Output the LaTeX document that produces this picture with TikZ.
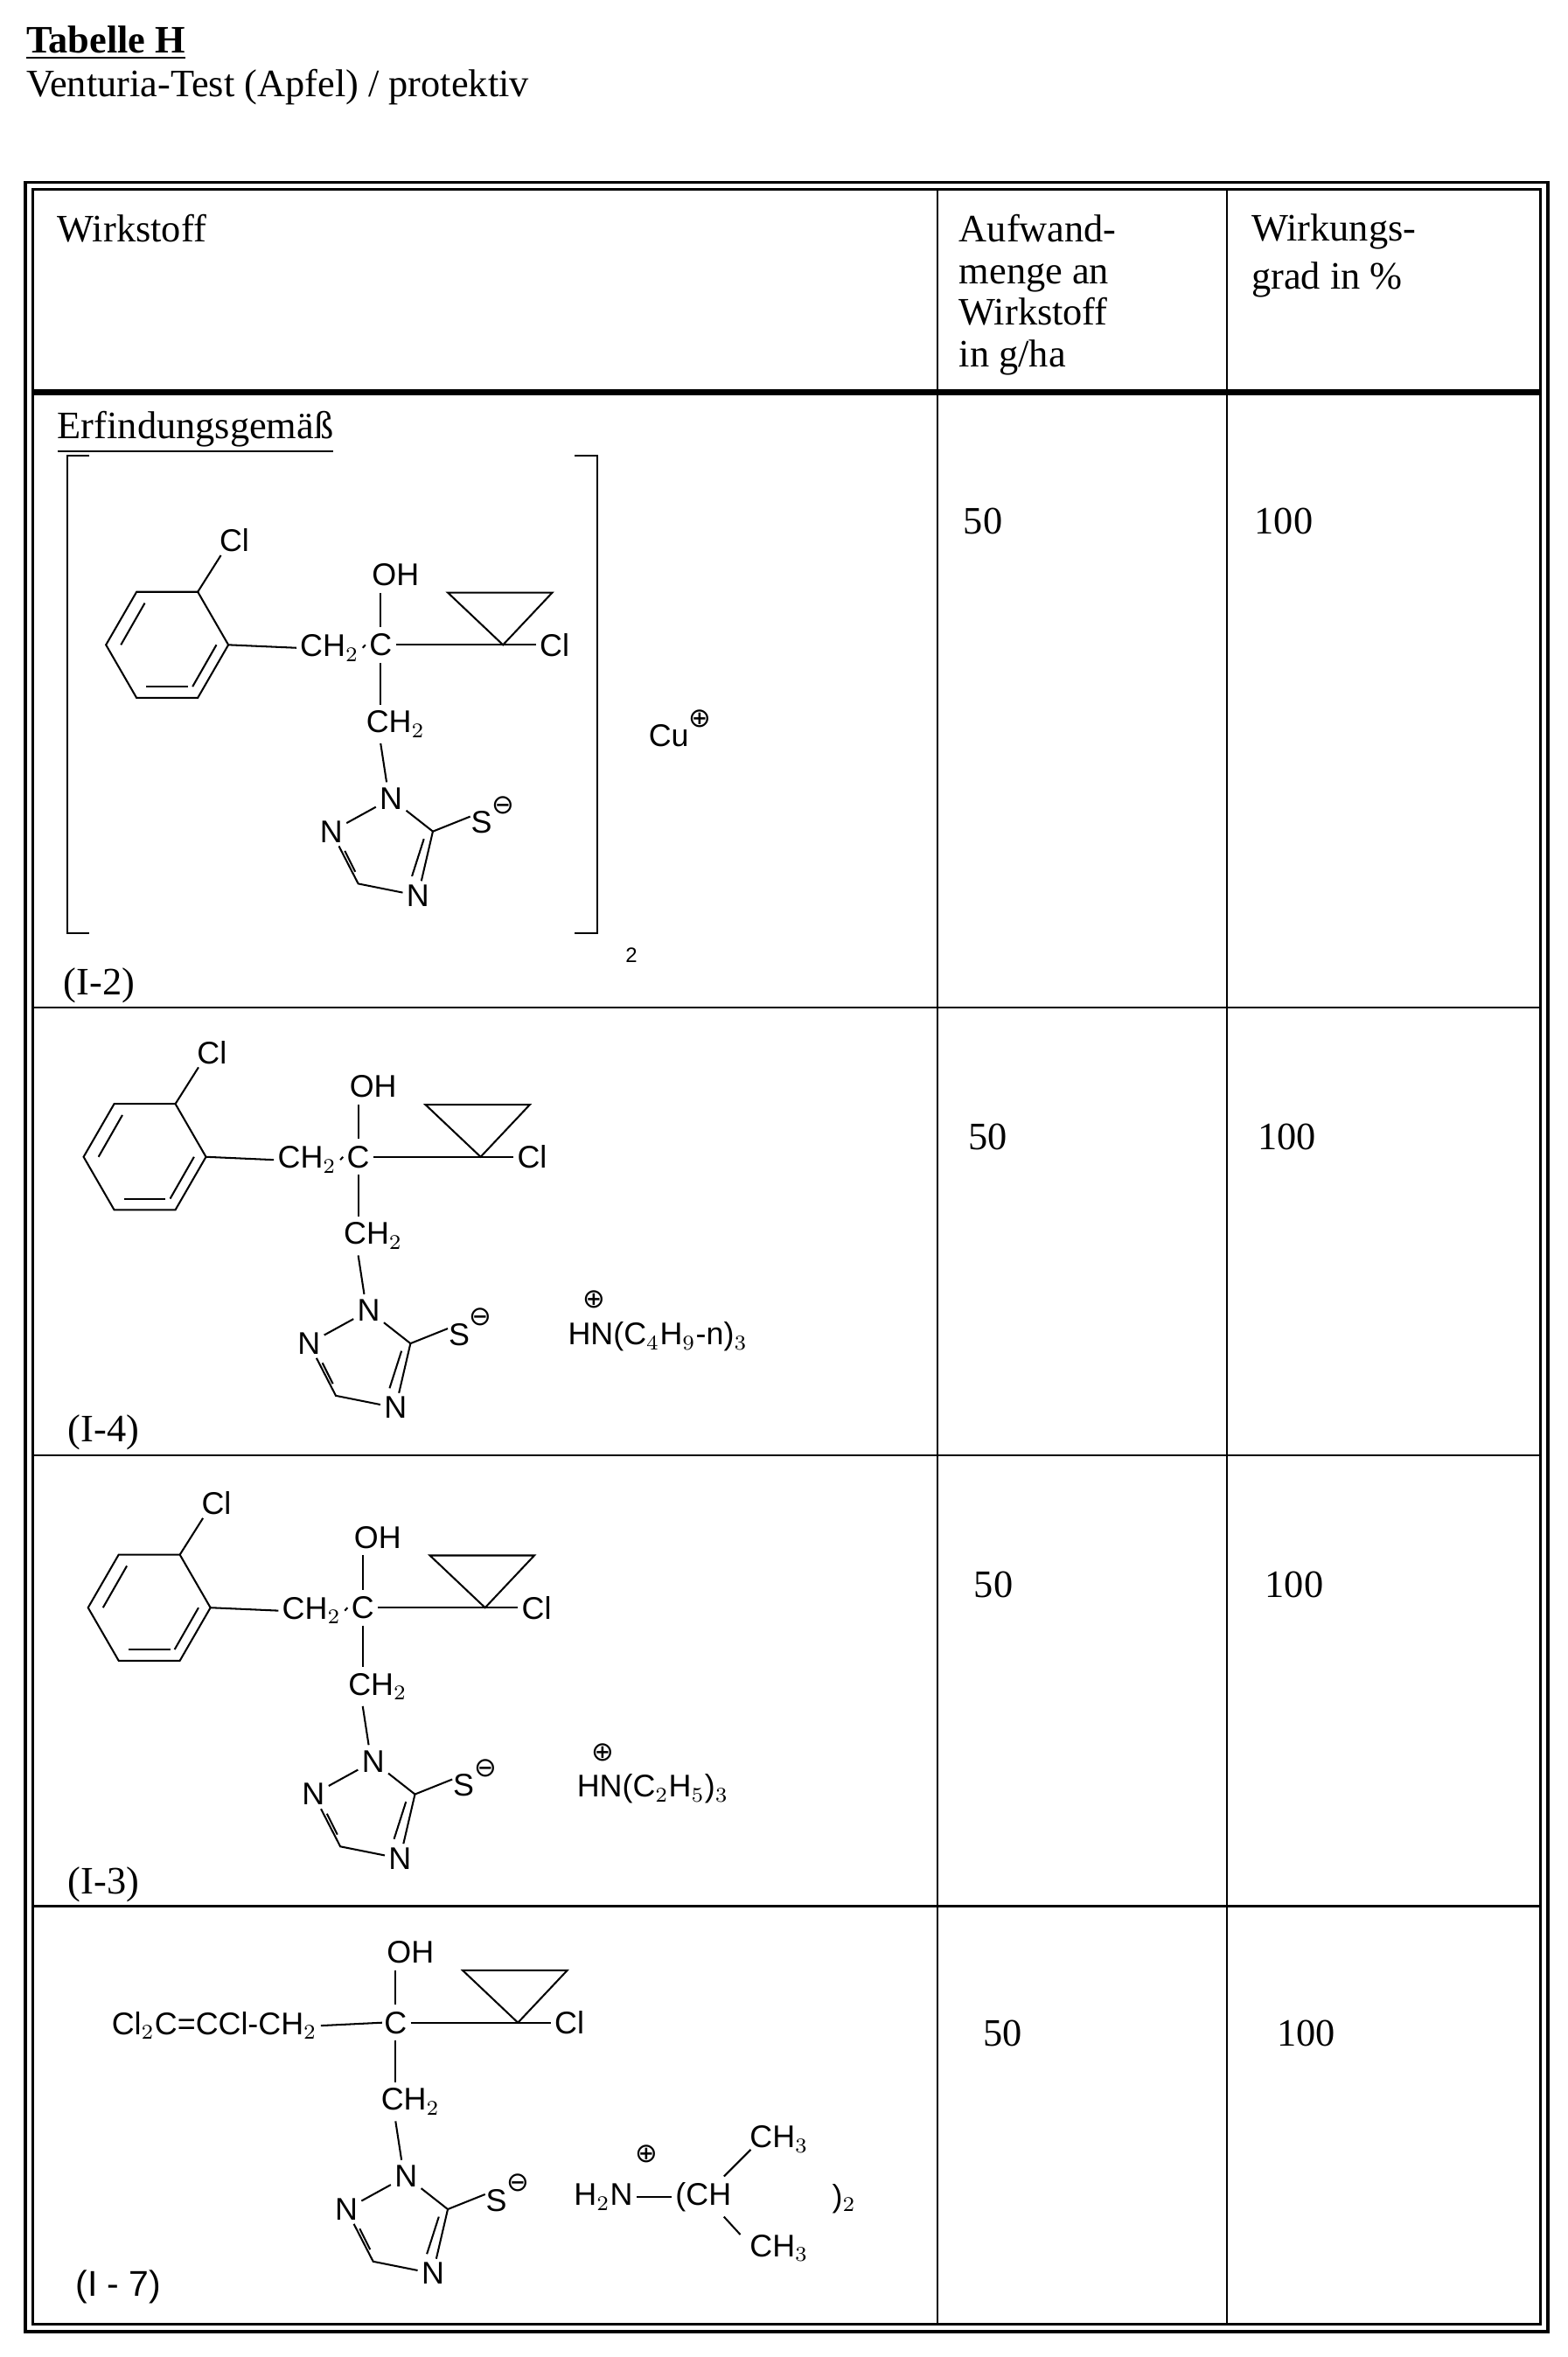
\documentclass[tikz,border=0pt]{standalone}
\usepackage{fontspec}
\setmainfont{Liberation Serif}
\newfontfamily\chem{Liberation Sans}
\newfontfamily\dv{DejaVu Sans}
\newcommand\pl{{\dv\fontsize{9}{9}\selectfont ⊕}}
\newcommand\mi{{\dv\fontsize{9}{9}\selectfont ⊖}}
\newcommand\coreA[1]{%
\begin{scope}[shift={#1}]
\node[ch] (C) at (0,0) {C};
\node[ch] (OH) at (10,-47) {OH};
\draw (0,-12) -- (0,-35);
\node[ch] (CHb) at (10,53) {CH$_2$};
\draw (0,12) -- (0,40);
\draw (C.east) -- (82,0);
\draw (82,0) -- (45,-35) -- (115,-35) -- cycle;
\draw (82,0) -- (104,0);
\node[ch,anchor=west] (Clr) at (104,0) {Cl};
\draw (0,66) -- (4,92);
\node[ch] (N1) at (7,103) {N};
\node[ch] (N2) at (-33,125) {N};
\node[ch] (N4) at (25,168) {N};
\draw (N1) -- (35,125) -- (N4);
\draw (N1) -- (N2);
\draw (N2) -- (-15,160) -- (N4);
\draw (29,130) -- (21,155);
\draw (-24,138) -- (-17,152);
\draw (35,125) -- (60,115);
\node[ch,anchor=west] (S) at (58,114) {S\raisebox{1.2ex}{\mi}};
\end{scope}}
\newcommand\ringA[1]{%
\begin{scope}[shift={#1}]
\node[ch,anchor=east] (CHa) at (-12,2) {CH$_2$};
\draw (CHa.east) -- (C.west);
\draw (-102,0) -- (-122.5,35.5) -- (-163.5,35.5) -- (-184,0) -- (-163.5,-35.5) -- (-122.5,-35.5) -- cycle;
\draw (-110,0) -- (-126,28); \draw (-157,28) -- (-129,28); \draw (-174,0) -- (-158,-28);
\draw (-102,0) -- (CHa.west);
\draw (-122.5,-35.5) -- (-107,-60);
\node[ch] (Clt) at (-98,-70) {Cl};
\end{scope}}
\begin{document}
\begin{tikzpicture}[x=0.5pt,y=-0.5pt,line width=0.6pt,ch/.style={font=\chem\fontsize{10.5}{12}\selectfont,inner sep=1pt},
 tx/.style={font=\fontsize{13}{14}\selectfont,anchor=north west,inner sep=0pt,align=left}]
\useasboundingbox (0,0) rectangle (1050,1579);
\node[tx,font=\bfseries\fontsize{13}{14}\selectfont] (title) at (17,17) {\underline{Tabelle H}};
\node[tx] (sub) at (17,46) {Venturia-Test (Apfel) / protektiv};
\draw[line width=1pt] (17,122) rectangle (1037,1562);
\draw[line width=0.8pt] (22,127) rectangle (1032,1557);
\draw[line width=2pt] (22,263) -- (1032,263);
\draw[line width=0.8pt] (628,127) -- (628,1557) (822,127) -- (822,1557);
\draw[line width=0.8pt] (22,675) -- (1032,675) (22,975) -- (1032,975) (22,1277) -- (1032,1277);
\node[tx] (h1) at (38,143) {Wirkstoff};
\node[tx,font=\fontsize{13}{14}\selectfont] (h2) at (642,143) {Aufwand-\\menge an\\Wirkstoff\\in g/ha};
\node[tx,font=\fontsize{13}{16}\selectfont] (h3) at (838,143) {Wirkungs-\\grad in \%};
\node[tx] (erf) at (38,275) {\underline{Erfindungsgemäß}};
% row 1
\coreA{(255,432)} \ringA{(255,432)}
\draw (60,305) -- (45,305) -- (45,625) -- (60,625);
\draw (385,305) -- (400,305) -- (400,625) -- (385,625);
\node[ch,font=\chem\fontsize{7}{8}\selectfont] (two) at (423,640) {2};
\node[ch,anchor=west] (cu) at (432,488) {Cu\raisebox{1.2ex}{\pl}};
\node[tx] (i2) at (42,648) {(I-2)};
\node[tx] (a1) at (645,340) {50}; \node[tx] (b1) at (840,340) {100};
% row 2
\coreA{(240,775)} \ringA{(240,775)}
\node[ch,anchor=west] (hn1) at (378,885) {H\rlap{\raisebox{2.2ex}{\kern-0.25em\pl}}N(C$_4$H$_9$-n)$_3$};
\node[tx] (i4) at (45,947) {(I-4)};
\node[tx] (a2) at (648,752) {50}; \node[tx] (b2) at (842,752) {100};
% row 3
\coreA{(243,1077)} \ringA{(243,1077)}
\node[ch,anchor=west] (hn2) at (384,1188) {H\rlap{\raisebox{2.2ex}{\kern-0.25em\pl}}N(C$_2$H$_5$)$_3$};
\node[tx] (i3) at (45,1250) {(I-3)};
\node[tx] (a3) at (652,1052) {50}; \node[tx] (b3) at (847,1052) {100};
% row 4
\coreA{(265,1355)}
\node[ch,anchor=east] (cl2) at (215,1357) {Cl$_2$C=CCl-CH$_2$};
\draw (cl2.east) -- (256,1355);
\node[ch,anchor=west] (h2n) at (382,1472) {H$_2$N};
\node[ch] (plus) at (433,1443) {\pl};
\node[ch,anchor=west] (chh) at (450,1472) {(CH};
\draw (h2n.east) -- (chh.west);
\node[ch] (me1) at (522,1433) {CH$_3$};
\node[ch] (me2) at (522,1506) {CH$_3$};
\draw (485,1458) -- (503,1440);
\draw (485,1485) -- (496,1497);
\node[ch,anchor=west] (cl2b) at (555,1473) {)$_2$};
\node[tx,font=\chem\fontsize{12}{13}\selectfont] (i7) at (50,1520) {(I - 7)};
\node[tx] (a4) at (658,1353) {50}; \node[tx] (b4) at (855,1353) {100};
\end{tikzpicture}
\end{document}
